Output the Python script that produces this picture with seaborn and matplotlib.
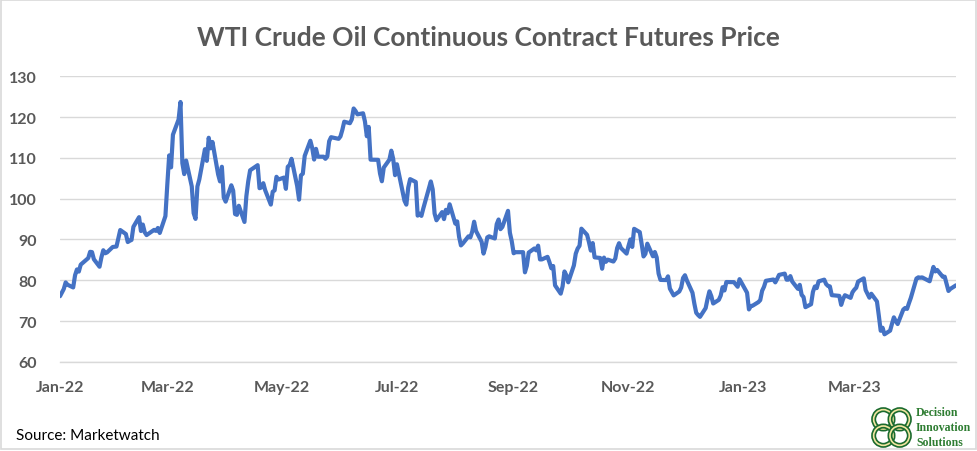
import matplotlib
matplotlib.use("Agg")
import matplotlib.pyplot as plt
import seaborn as sns
import pandas as pd
from matplotlib.patches import Rectangle, Circle

# ---------------- data ----------------
dates_2022 = [
    "01-03", "01-04", "01-05", "01-06", "01-07", "01-10", "01-11", "01-12", "01-13", "01-14",
    "01-18", "01-19", "01-20", "01-21", "01-24", "01-25", "01-26", "01-27", "01-28", "01-31",
    "02-01", "02-02", "02-03", "02-04", "02-07", "02-08", "02-09", "02-10", "02-11", "02-14",
    "02-15", "02-16", "02-17", "02-18", "02-22", "02-23", "02-24", "02-25", "02-28",
    "03-01", "03-02", "03-03", "03-04", "03-07", "03-08", "03-09", "03-10", "03-11", "03-14",
    "03-15", "03-16", "03-17", "03-18", "03-21", "03-22", "03-23", "03-24", "03-25", "03-28",
    "03-29", "03-30", "03-31",
    "04-01", "04-04", "04-05", "04-06", "04-07", "04-08", "04-11", "04-12", "04-13", "04-14",
    "04-18", "04-19", "04-20", "04-21", "04-22", "04-25", "04-26", "04-27", "04-28", "04-29",
    "05-02", "05-03", "05-04", "05-05", "05-06", "05-09", "05-10", "05-11", "05-12", "05-13",
    "05-16", "05-17", "05-18", "05-19", "05-20", "05-23", "05-24", "05-25", "05-26", "05-27",
    "05-31",
    "06-01", "06-02", "06-03", "06-06", "06-07", "06-08", "06-09", "06-10", "06-13", "06-14",
    "06-15", "06-16", "06-17", "06-21", "06-22", "06-23", "06-24", "06-27", "06-28", "06-29",
    "06-30",
    "07-01", "07-05", "07-06", "07-07", "07-08", "07-11", "07-12", "07-13", "07-14", "07-15",
    "07-18", "07-19", "07-20", "07-21", "07-22", "07-25", "07-26", "07-27", "07-28", "07-29",
    "08-01", "08-02", "08-03", "08-04", "08-05", "08-08", "08-09", "08-10", "08-11", "08-12",
    "08-15", "08-16", "08-17", "08-18", "08-19", "08-22", "08-23", "08-24", "08-25", "08-26",
    "08-29", "08-30", "08-31",
    "09-01", "09-02", "09-06", "09-07", "09-08", "09-09", "09-12", "09-13", "09-14", "09-15",
    "09-16", "09-19", "09-20", "09-21", "09-22", "09-23", "09-26", "09-27", "09-28", "09-29",
    "09-30",
    "10-03", "10-04", "10-05", "10-06", "10-07", "10-10", "10-11", "10-12", "10-13", "10-14",
    "10-17", "10-18", "10-19", "10-20", "10-21", "10-24", "10-25", "10-26", "10-27", "10-28",
    "10-31",
    "11-01", "11-02", "11-03", "11-04", "11-07", "11-08", "11-09", "11-10", "11-11", "11-14",
    "11-15", "11-16", "11-17", "11-18", "11-21", "11-22", "11-23", "11-25", "11-28", "11-29",
    "11-30",
    "12-01", "12-02", "12-05", "12-06", "12-07", "12-08", "12-09", "12-12", "12-13", "12-14",
    "12-15", "12-16", "12-19", "12-20", "12-21", "12-22", "12-23", "12-27", "12-28", "12-29",
    "12-30",
]
prices_2022 = [
    76.08, 76.99, 77.85, 79.46, 78.90, 78.23, 81.22, 82.64, 82.12, 83.82,
    85.43, 86.96, 86.90, 85.14, 83.31, 85.60, 87.35, 86.61, 86.82, 88.15,
    88.20, 88.26, 90.27, 92.31, 91.32, 89.36, 89.66, 89.88, 93.10, 95.46,
    92.07, 93.66, 91.76, 91.07, 92.35, 92.10, 92.81, 91.59, 95.72,
    103.41, 110.60, 107.67, 115.68, 119.40, 123.70, 108.70, 106.02, 109.33, 103.01,
    96.44, 95.04, 102.98, 104.70, 112.12, 109.27, 114.93, 112.34, 113.90, 105.96,
    104.24, 107.82, 100.28,
    99.27, 103.28, 101.96, 96.23, 96.03, 98.26, 94.29, 100.60, 104.25, 106.95,
    108.21, 102.56, 102.75, 103.79, 102.07, 98.54, 101.70, 102.02, 105.36, 104.69,
    105.17, 102.41, 107.81, 108.26, 109.77, 103.09, 99.76, 105.71, 106.13, 110.49,
    114.20, 112.40, 109.59, 112.21, 110.28, 110.29, 109.77, 110.33, 114.09, 115.07,
    114.67,
    115.26, 116.87, 118.87, 118.50, 119.41, 122.11, 121.51, 120.67, 120.93, 118.93,
    115.31, 117.59, 109.56, 109.52, 106.19, 104.27, 107.62, 109.57, 111.76, 109.78,
    105.76,
    108.43, 99.50, 98.53, 102.73, 104.79, 104.09, 95.84, 96.30, 95.78, 97.59,
    102.60, 104.22, 102.26, 96.35, 94.70, 96.70, 94.98, 97.26, 96.42, 98.62,
    93.89, 94.42, 90.66, 88.54, 89.01, 90.76, 90.50, 91.93, 94.34, 92.09,
    89.41, 86.53, 88.11, 90.50, 90.77, 90.23, 93.74, 94.89, 92.52, 93.06,
    97.01, 91.64, 89.55,
    86.61, 86.87, 86.88, 81.94, 83.54, 86.79, 87.78, 87.31, 88.48, 85.10,
    85.11, 85.73, 84.45, 82.94, 83.49, 78.74, 76.71, 78.50, 82.15, 81.23,
    79.49,
    83.63, 86.52, 87.76, 88.45, 92.64, 91.13, 89.35, 87.27, 89.11, 85.61,
    85.46, 82.82, 85.55, 84.51, 85.05, 84.58, 85.32, 87.91, 89.08, 87.90,
    86.53,
    88.37, 90.00, 88.17, 92.61, 91.79, 88.91, 85.83, 86.47, 88.96, 85.87,
    86.92, 85.59, 81.64, 80.08, 80.04, 80.95, 77.94, 76.28, 77.24, 78.20,
    80.55,
    81.22, 79.98, 76.93, 74.25, 72.01, 71.46, 71.02, 73.17, 75.39, 77.28,
    76.11, 74.29, 75.19, 76.23, 78.29, 77.49, 79.56, 79.53, 78.96, 78.40,
    80.26,
]
dates_2023 = [
    "01-03", "01-04", "01-05", "01-06", "01-09", "01-10", "01-11", "01-12", "01-13", "01-17",
    "01-18", "01-19", "01-20", "01-23", "01-24", "01-25", "01-26", "01-27", "01-30", "01-31",
    "02-01", "02-02", "02-03", "02-06", "02-07", "02-08", "02-09", "02-10", "02-13", "02-14",
    "02-15", "02-16", "02-17", "02-21", "02-22", "02-23", "02-24", "02-27", "02-28",
    "03-01", "03-02", "03-03", "03-06", "03-07", "03-08", "03-09", "03-10", "03-13", "03-14",
    "03-15", "03-16", "03-17", "03-20", "03-21", "03-22", "03-23", "03-24", "03-27", "03-28",
    "03-29", "03-30", "03-31",
    "04-03", "04-04", "04-05", "04-06", "04-10", "04-11", "04-12", "04-13", "04-14", "04-17",
    "04-18", "04-19", "04-20", "04-21", "04-24",
]
prices_2023 = [
    76.93, 72.84, 73.67, 73.77, 74.63, 75.12, 77.41, 78.39, 79.86, 80.18,
    79.48, 80.33, 81.31, 81.62, 80.13, 80.15, 81.01, 79.68, 77.90, 78.87,
    76.41, 75.88, 73.39, 74.11, 77.14, 78.47, 78.06, 79.72, 80.14, 79.06,
    78.59, 78.49, 76.34, 76.16, 73.95, 75.39, 76.32, 75.68, 77.05,
    77.69, 78.16, 79.68, 80.46, 77.58, 76.66, 75.72, 76.68, 74.80, 71.33,
    67.61, 68.35, 66.74, 67.64, 69.33, 70.90, 69.96, 69.26, 72.81, 73.20,
    72.97, 74.37, 75.67,
    80.42, 80.71, 80.61, 80.70, 79.74, 81.53, 83.26, 82.16, 82.52, 80.83,
    80.86, 79.16, 77.37, 77.87, 78.76,
]
tick_dates = ["2022-01-03", "2022-03-01", "2022-05-01", "2022-07-01",
              "2022-09-01", "2022-11-01", "2023-01-01", "2023-03-01"]
tick_labels = ["Jan-22", "Mar-22", "May-22", "Jul-22",
               "Sep-22", "Nov-22", "Jan-23", "Mar-23"]
y_ticks = [60, 70, 80, 90, 100, 110, 120, 130]

title = "WTI Crude Oil Continuous Contract Futures Price"
source = "Source: Marketwatch"
logo_lines = ["Decision", "Innovation", "Solutions"]

# ---------------- build frame ----------------
df = pd.DataFrame({
    "date": pd.to_datetime(["2022-" + d for d in dates_2022] + ["2023-" + d for d in dates_2023]),
    "price": prices_2022 + prices_2023,
})

# ---------------- style ----------------
sns.set_theme(style="white")
plt.rcParams["font.family"] = ["Lato", "DejaVu Sans"]

W, H = 977, 452
fig = plt.figure(figsize=(W / 100, H / 100), dpi=100)
fig.patch.set_facecolor("white")

x0, x1 = 60, 956
ytop, ybot = 77.3, 362.8
ax = fig.add_axes([x0 / W, 1 - ybot / H, (x1 - x0) / W, (ybot - ytop) / H])

sns.lineplot(data=df, x="date", y="price", ax=ax, color="#4472C4",
             linewidth=3.0, solid_joinstyle="round", solid_capstyle="round")

ax.set_xlim(pd.Timestamp("2022-01-03"), pd.Timestamp("2023-04-24"))
ax.set_ylim(60, 130)
ax.set_yticks(y_ticks)
ax.set_xticks(pd.to_datetime(tick_dates))
ax.set_xticklabels(tick_labels)
ax.set_xlabel("")
ax.set_ylabel("")

grid_c = "#D9D9D9"
ax.grid(axis="y", color=grid_c, linewidth=1.0)
ax.grid(axis="x", visible=False)
ax.set_axisbelow(True)
for s in ["top", "right", "left"]:
    ax.spines[s].set_visible(False)
ax.spines["bottom"].set_color(grid_c)
ax.spines["bottom"].set_linewidth(1.0)

ax.tick_params(axis="x", which="major", length=5, width=1.0, color=grid_c,
               direction="out", pad=8, labelsize=11.5, labelcolor="#595959")
ax.tick_params(axis="y", length=0, pad=17, labelsize=11.5, labelcolor="#595959")
for lab in ax.get_xticklabels() + ax.get_yticklabels():
    lab.set_fontweight("bold")

fig.text(0.5, 1 - 38 / H, title, ha="center", va="center",
         fontsize=19, fontweight="bold", color="#595959")
fig.text(16 / W, 1 - 436 / H, source, ha="left", va="center",
         fontsize=11, color="#000000")

# logo text
lg = "#2E7D32"
for i, t in enumerate(logo_lines):
    fig.text(916 / W, 1 - (413 + i * 15) / H, t, ha="left", va="center",
             fontsize=8.5, fontweight="bold", color=lg,
             family=["Liberation Serif", "DejaVu Serif"])

# logo knot (decorative)
lax = fig.add_axes([870 / W, 1 - 450 / H, 43 / W, 43 / H])
lax.set_xlim(-1, 1)
lax.set_ylim(-1, 1)
lax.set_aspect("equal")
lax.axis("off")
for cx, cy in [(-0.38, 0.38), (0.38, 0.38), (-0.38, -0.38), (0.38, -0.38)]:
    lax.add_patch(Circle((cx, cy), 0.45, facecolor="none", edgecolor="#1B6B2E", linewidth=3.6))
    lax.add_patch(Circle((cx, cy), 0.45, facecolor="none", edgecolor="#F2E6A0", linewidth=1.2))

# figure border
fig.add_artist(Rectangle((1 / W, 2.5 / H), 1 - 2.5 / W, 1 - 3.5 / H,
                         transform=fig.transFigure, fill=False,
                         edgecolor="#D9D9D9", linewidth=1.2))

fig.savefig("out.png", dpi=100, facecolor="white")
